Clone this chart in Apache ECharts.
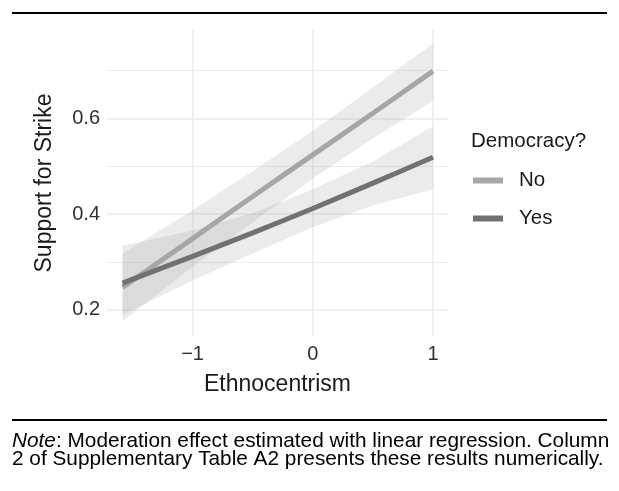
<!DOCTYPE html>
<html>
<head>
<meta charset="utf-8">
<script src="https://cdn.jsdelivr.net/npm/echarts@6/dist/echarts.min.js"></script>
<style>html,body{margin:0;padding:0;background:#fff}#c{width:619px;height:491px}</style>
</head>
<body>
<div id="c"></div>
<script>
// ---- data ----
const xVals      = [-1.583, -1, -0.5, 0, 0.5, 1];
const noFit      = [0.247, 0.349, 0.437, 0.524, 0.611, 0.699];
const noLower    = [0.176, 0.290, 0.383, 0.474, 0.558, 0.637];
const noUpper    = [0.318, 0.408, 0.490, 0.574, 0.665, 0.757];
const yesFit     = [0.256, 0.312, 0.361, 0.412, 0.465, 0.519];
const yesLower   = [0.190, 0.262, 0.318, 0.373, 0.418, 0.452];
const yesUpper   = [0.334, 0.366, 0.402, 0.452, 0.510, 0.584];
const xTicks     = [-1, 0, 1];
const yTicks     = [0.2, 0.4, 0.6];
const yMinor     = [0.3, 0.5, 0.7];
const groups     = ['No', 'Yes'];

const chart = echarts.init(document.getElementById('c'), null, {renderer: 'canvas'});
const FONT = '"Liberation Sans", Arial, Helvetica, sans-serif';

function pairs(ys) { return xVals.map((x, i) => [x, ys[i]]); }
function bandData(lo, hi) { return xVals.map((x, i) => [x, lo[i], hi[i]]); }

function bandSeries(name, lo, hi) {
  return {
    type: 'custom',
    name: name + ' band',
    silent: true,
    clip: true,
    z: 1,
    data: bandData(lo, hi),
    encode: {x: 0, y: [1, 2]},
    renderItem: function (params, api) {
      if (params.dataIndex !== 0) return null;
      const d = bandData(lo, hi);
      const top = d.map(r => api.coord([r[0], r[2]]));
      const bot = d.map(r => api.coord([r[0], r[1]])).reverse();
      return {
        type: 'polygon',
        shape: {points: top.concat(bot)},
        style: {fill: 'rgba(153,153,153,0.2)', stroke: null}
      };
    }
  };
}

const option = {
  animation: false,
  backgroundColor: '#fff',
  grid: {left: 107, right: 171, top: 30, bottom: 155, containLabel: false},
  title: {
    text: 'Democracy?', left: 471, top: 131, padding: 0,
    textStyle: {fontFamily: FONT, fontSize: 20.5, fontWeight: 'normal', color: '#1a1a1a'}
  },
  legend: {
    data: groups, orient: 'vertical', left: 473, top: 170, padding: 0,
    itemWidth: 30, itemHeight: 6, itemGap: 17, icon: 'rect',
    textStyle: {fontFamily: FONT, fontSize: 20.5, color: '#1a1a1a', lineHeight: 20, padding: [0, 0, 0, 11]}
  },
  xAxis: {
    type: 'value', min: -1.712, max: 1.125,
    name: 'Ethnocentrism', nameLocation: 'middle', nameGap: 37,
    nameTextStyle: {fontFamily: FONT, fontSize: 23, color: '#1a1a1a'},
    axisLine: {show: false}, axisTick: {show: false, customValues: xTicks},
    axisLabel: {customValues: xTicks, fontFamily: FONT, fontSize: 20, color: '#303030', margin: 8,
      formatter: v => (v < 0 ? '\u2212' + Math.abs(v) : String(v))},
    splitLine: {show: true, lineStyle: {color: '#ebebeb', width: 1.5}}
  },
  yAxis: [{
    type: 'value', min: 0.1454, max: 0.785,
    name: 'Support for Strike', nameLocation: 'middle', nameGap: 51,
    nameTextStyle: {fontFamily: FONT, fontSize: 23, color: '#1a1a1a'},
    axisLine: {show: false}, axisTick: {show: false, customValues: yTicks},
    axisLabel: {customValues: yTicks, fontFamily: FONT, fontSize: 20, color: '#303030', margin: 7,
      formatter: v => v.toFixed(1)},
    splitLine: {show: true, lineStyle: {color: '#ebebeb', width: 1.5}}
  }, {
    type: 'value', min: 0.1454, max: 0.785, position: 'left',
    axisLine: {show: false}, axisTick: {show: false, customValues: yMinor},
    axisLabel: {show: false, customValues: yMinor},
    splitLine: {show: true, lineStyle: {color: '#ededed', width: 1.2}}
  }],
  series: [
    bandSeries('No', noLower, noUpper),
    bandSeries('Yes', yesLower, yesUpper),
    {
      name: 'No', type: 'line', data: pairs(noFit), symbol: 'none', smooth: 0.3, z: 3,
      color: '#a4a6a8', lineStyle: {width: 5, color: '#a4a6a8', cap: 'butt'}
    },
    {
      name: 'Yes', type: 'line', data: pairs(yesFit), symbol: 'none', smooth: 0.3, z: 4,
      color: '#717171', lineStyle: {width: 5, color: '#717171', cap: 'butt'}
    }
  ],
  graphic: [
    {type: 'line', shape: {x1: 12, y1: 13, x2: 607, y2: 13}, style: {stroke: '#000', lineWidth: 2}},
    {type: 'line', shape: {x1: 12, y1: 420, x2: 607, y2: 420}, style: {stroke: '#000', lineWidth: 2}},
    {
      type: 'text', left: 12, top: 431,
      style: {
        text: '{i|Note}: Moderation effect estimated with linear regression. Column\n2 of Supplementary Table A2 presents these results numerically.',
        fontFamily: FONT, fontSize: 20.8, lineHeight: 18, fill: '#000',
        rich: {i: {fontStyle: 'italic', fontFamily: FONT, fontSize: 20.8, lineHeight: 18}}
      }
    }
  ]
};
chart.setOption(option);
</script>
</body>
</html>
